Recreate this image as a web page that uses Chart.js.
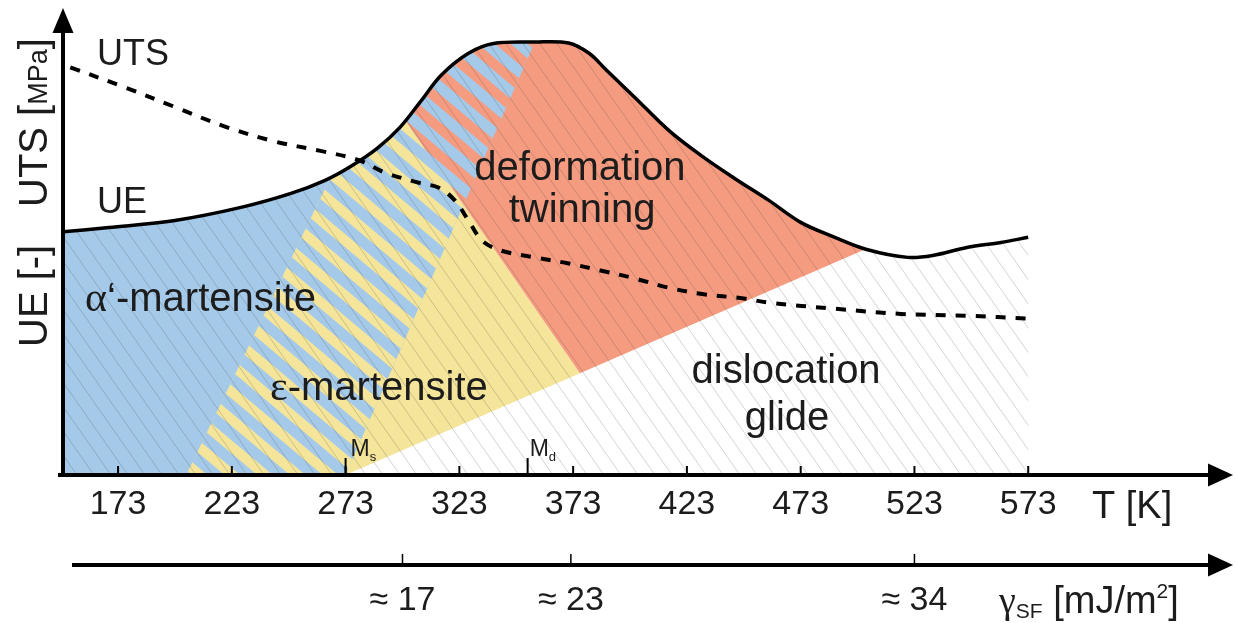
<!DOCTYPE html>
<html>
<head>
<meta charset="utf-8">
<script src="https://cdn.jsdelivr.net/npm/chart.js@4.4.1/dist/chart.umd.min.js"></script>
<style>
  html, body { margin: 0; padding: 0; background: #ffffff; }
  #wrap { width: 1235px; height: 623px; }
</style>
</head>
<body>
<div id="wrap"><canvas id="c" width="1235" height="623"></canvas></div>
<script>
// Temperature axis, K
const tempTicks = [173, 223, 273, 323, 373, 423, 473, 523, 573];
// Stacking-fault energy axis: temperatures where the marks sit, and their values (mJ/m²)
const sfeTickT = [298, 372, 523];
const sfeTickValues = [17, 23, 34];
// Characteristic temperatures
const msTemp = 273;
const mdTemp = 353;

// Uniform elongation (relative units)
const ueT = [149, 169, 198, 227, 249, 264, 275, 287, 297, 306, 315, 327, 338, 356, 371, 380, 387, 400, 415, 429, 444, 459, 473, 488, 502, 520, 531, 546, 561, 573];
const ueV = [52.1, 53.0, 54.5, 57.3, 60.3, 63.1, 66.0, 70.0, 74.5, 80.0, 85.6, 90.3, 92.4, 92.7, 92.5, 90.3, 87.0, 80.9, 73.8, 68.5, 63.5, 58.8, 54.1, 50.9, 48.3, 46.6, 47.0, 48.7, 49.8, 50.9];

// Ultimate tensile strength (relative units)
const utsT = [152, 176, 198, 220, 242, 262, 279, 290, 305, 314, 321, 327, 333, 341, 356, 371, 385, 400, 415, 429, 448, 459, 488, 517, 546, 573];
const utsV = [87.3, 83.0, 78.8, 74.6, 71.4, 69.4, 67.4, 64.8, 62.6, 61.5, 58.8, 54.5, 50.2, 48.1, 46.6, 45.3, 43.8, 42.1, 40.1, 38.8, 37.8, 36.9, 35.6, 34.5, 34.1, 33.5];

// Phase-field outlines in (T, value) pairs
const alphaField = [[140, 0], [203, 0], [302.5, 100], [140, 100]];
const mixedBand = [[203, 0], [273, 0], [362.7, 100], [302.5, 100]];
const epsField = [[140, 0], [273, 0], [376, 21.8], [265.1, 100], [140, 100]];
const twinField = [[376, 21.8], [573, 63.5], [573, 100], [265.1, 100]];

const T_MIN = 148.8, T_MAX = 663;
const SANS = '"Liberation Sans", Arial, Helvetica, sans-serif';
const SERIF = '"Liberation Serif", "Times New Roman", serif';
const INK = '#1c1c1c';
const BLUE = '#a5c9e8', YELLOW = '#f4e59a', SALMON = '#f59b80';

function polyPath(ctx, xs, ys, pts) {
  ctx.beginPath();
  pts.forEach(([t, v], i) => {
    const px = xs.getPixelForValue(t), py = ys.getPixelForValue(v);
    if (i === 0) ctx.moveTo(px, py); else ctx.lineTo(px, py);
  });
  ctx.closePath();
}

function clipUnderUE(chart, ctx) {
  const xs = chart.scales.x, ys = chart.scales.y;
  const line = chart.getDatasetMeta(0).dataset;
  ctx.beginPath();
  if (line && typeof line.path === 'function') {
    if (typeof line.updateControlPoints === 'function') line.updateControlPoints(chart.chartArea, 'x');
    line.path(ctx);
  } else {
    ueT.forEach((t, i) => {
      const px = xs.getPixelForValue(t), py = ys.getPixelForValue(ueV[i]);
      if (i === 0) ctx.moveTo(px, py); else ctx.lineTo(px, py);
    });
  }
  ctx.lineTo(xs.getPixelForValue(ueT[ueT.length - 1]), ys.getPixelForValue(0));
  ctx.lineTo(xs.getPixelForValue(ueT[0]), ys.getPixelForValue(0));
  ctx.closePath();
  ctx.clip();
}

function stripes(ctx, area, color, angle, period, width) {
  ctx.save();
  ctx.translate((area.left + area.right) / 2, (area.top + area.bottom) / 2);
  ctx.rotate(angle * Math.PI / 180);
  ctx.fillStyle = color;
  for (let k = -90; k <= 90; k++) ctx.fillRect(-1600, k * period, 3200, width);
  ctx.restore();
}

function drawRuns(ctx, x, y, runs, align) {
  let total = 0;
  runs.forEach(r => { ctx.font = r.size + 'px ' + (r.family || SANS); r.w = ctx.measureText(r.text).width; total += r.w; });
  let cx = align === 'center' ? x - total / 2 : x;
  ctx.textAlign = 'left';
  ctx.textBaseline = 'alphabetic';
  runs.forEach(r => {
    ctx.font = r.size + 'px ' + (r.family || SANS);
    ctx.fillText(r.text, cx, y + (r.dy || 0));
    cx += r.w;
  });
}

function arrow(ctx, tipX, tipY, dir, len, half) {
  ctx.beginPath();
  if (dir === 'right') {
    ctx.moveTo(tipX, tipY); ctx.lineTo(tipX - len, tipY - half); ctx.lineTo(tipX - len, tipY + half);
  } else {
    ctx.moveTo(tipX, tipY); ctx.lineTo(tipX - half, tipY + len); ctx.lineTo(tipX + half, tipY + len);
  }
  ctx.closePath();
  ctx.fill();
}

// Coloured phase fields, the mixed α'/ε band and the light hatching below the UE curve
const phaseFields = {
  id: 'phaseFields',
  beforeDatasetsDraw(chart) {
    const ctx = chart.ctx, xs = chart.scales.x, ys = chart.scales.y, area = chart.chartArea;
    ctx.save();
    clipUnderUE(chart, ctx);

    ctx.fillStyle = YELLOW; polyPath(ctx, xs, ys, epsField); ctx.fill();
    ctx.fillStyle = SALMON; polyPath(ctx, xs, ys, twinField); ctx.fill();
    ctx.fillStyle = BLUE; polyPath(ctx, xs, ys, alphaField); ctx.fill();
    polyPath(ctx, xs, ys, mixedBand); ctx.fill();

    // striped band: blue with ε (yellow) or twin (salmon) stripes
    ctx.save();
    polyPath(ctx, xs, ys, mixedBand); ctx.clip();
    ctx.save();
    polyPath(ctx, xs, ys, epsField); ctx.clip();
    stripes(ctx, area, YELLOW, 40, 21, 10);
    ctx.restore();
    ctx.save();
    polyPath(ctx, xs, ys, twinField); ctx.clip();
    stripes(ctx, area, SALMON, 40, 21, 10);
    ctx.restore();
    ctx.restore();

    // fine hatching
    ctx.strokeStyle = 'rgba(70,70,70,0.24)';
    ctx.lineWidth = 1;
    const h = area.bottom - area.top;
    const dx = h / Math.tan(55 * Math.PI / 180);
    ctx.beginPath();
    for (let x0 = area.left - dx - 20; x0 < area.right; x0 += 17) {
      ctx.moveTo(x0, area.top);
      ctx.lineTo(x0 + dx, area.bottom);
    }
    ctx.stroke();
    ctx.restore();
  }
};

// Axis lines with arrow heads, inward tick marks and all annotation text
const frame = {
  id: 'frame',
  afterDraw(chart) {
    const ctx = chart.ctx, xs = chart.scales.x, gs = chart.scales.g, ys = chart.scales.y;
    const area = chart.chartArea;
    const y0 = area.bottom, xL = area.left;
    ctx.save();
    ctx.strokeStyle = '#000'; ctx.fillStyle = '#000';

    // y axis
    ctx.lineWidth = 4;
    ctx.beginPath(); ctx.moveTo(xL, y0 + 2); ctx.lineTo(xL, area.top + 22); ctx.stroke();
    arrow(ctx, xL, area.top, 'up', 25, 10.5);

    // temperature axis
    ctx.beginPath(); ctx.moveTo(xL - 5, y0); ctx.lineTo(area.right - 22, y0); ctx.stroke();
    arrow(ctx, area.right, y0, 'right', 25, 11.5);
    ctx.lineWidth = 2;
    tempTicks.forEach(t => {
      const px = xs.getPixelForValue(t);
      ctx.beginPath(); ctx.moveTo(px, y0); ctx.lineTo(px, y0 - 9); ctx.stroke();
    });
    [msTemp, mdTemp].forEach(t => {
      const px = xs.getPixelForValue(t);
      ctx.beginPath(); ctx.moveTo(px, y0); ctx.lineTo(px, y0 - 17); ctx.stroke();
    });

    // stacking-fault energy axis
    const yg = gs.top;
    ctx.lineWidth = 4;
    ctx.beginPath(); ctx.moveTo(72, yg); ctx.lineTo(area.right - 22, yg); ctx.stroke();
    arrow(ctx, area.right, yg, 'right', 25, 11.5);
    ctx.lineWidth = 1.5;
    sfeTickT.forEach(t => {
      const px = gs.getPixelForValue(t);
      ctx.beginPath(); ctx.moveTo(px, yg); ctx.lineTo(px, yg - 11); ctx.stroke();
    });

    ctx.fillStyle = INK;
    // axis titles
    drawRuns(ctx, 1092, 518, [{ text: 'T [K]', size: 38 }], 'left');
    drawRuns(ctx, 999, 613, [
      { text: 'γ', size: 38, family: SERIF },
      { text: 'SF', size: 21, dy: 5 },
      { text: ' [mJ/m', size: 38 },
      { text: '2', size: 21, dy: -15 },
      { text: ']', size: 38 }
    ], 'left');

    ctx.save();
    ctx.translate(47, 347);
    ctx.rotate(-Math.PI / 2);
    drawRuns(ctx, 0, 0, [{ text: 'UE [-]', size: 40 }], 'left');
    drawRuns(ctx, 140, 0, [
      { text: 'UTS [', size: 40 },
      { text: 'MPa', size: 27 },
      { text: ']', size: 40 }
    ], 'left');
    ctx.restore();

    // transformation temperatures
    const msX = xs.getPixelForValue(msTemp), mdX = xs.getPixelForValue(mdTemp);
    drawRuns(ctx, msX + 5, y0 - 19, [{ text: 'M', size: 23 }, { text: 's', size: 13, dy: 5 }], 'left');
    drawRuns(ctx, mdX + 2, y0 - 19, [{ text: 'M', size: 23 }, { text: 'd', size: 13, dy: 5 }], 'left');

    // curve and field names
    const P = (t, v) => [xs.getPixelForValue(t), ys.getPixelForValue(v)];
    let p;
    p = P(163.7, 87.8); drawRuns(ctx, p[0], p[1], [{ text: 'UTS', size: 36 }], 'left');
    p = P(163.7, 56.1); drawRuns(ctx, p[0], p[1], [{ text: 'UE', size: 36 }], 'left');
    p = P(158.5, 35.1); drawRuns(ctx, p[0], p[1], [{ text: 'α', size: 42, family: SERIF }, { text: '‘-martensite', size: 40 }], 'left');
    p = P(239.8, 16.1); drawRuns(ctx, p[0], p[1], [{ text: 'ε', size: 42, family: SERIF }, { text: '-martensite', size: 40 }], 'left');
    p = P(376.0, 63.2); drawRuns(ctx, p[0], p[1], [{ text: 'deformation', size: 40 }], 'center');
    p = P(376.9, 54.2); drawRuns(ctx, p[0], p[1], [{ text: 'twinning', size: 40 }], 'center');
    p = P(466.6, 19.7); drawRuns(ctx, p[0], p[1], [{ text: 'dislocation', size: 40 }], 'center');
    p = P(467.0, 9.6); drawRuns(ctx, p[0], p[1], [{ text: 'glide', size: 40 }], 'center');
    ctx.restore();
  }
};

const ctx = document.getElementById('c').getContext('2d');
new Chart(ctx, {
  type: 'line',
  data: {
    datasets: [
      {
        label: 'UE',
        data: ueT.map((t, i) => ({ x: t, y: ueV[i] })),
        xAxisID: 'x', yAxisID: 'y',
        borderColor: '#000', borderWidth: 3.5,
        pointRadius: 0, fill: false,
        tension: 0.35
      },
      {
        label: 'UTS',
        data: utsT.map((t, i) => ({ x: t, y: utsV[i] })),
        xAxisID: 'x', yAxisID: 'y',
        borderColor: '#000', borderWidth: 4, borderDash: [10, 10],
        pointRadius: 0, fill: false,
        tension: 0.35
      }
    ]
  },
  options: {
    responsive: false,
    animation: false,
    events: [],
    layout: { padding: { left: 63, right: 2, top: 8, bottom: 0 } },
    plugins: { legend: { display: false }, tooltip: { enabled: false } },
    scales: {
      x: {
        type: 'linear', position: 'bottom', min: T_MIN, max: T_MAX, weight: 0,
        grid: { display: false, drawTicks: false },
        border: { display: false },
        ticks: { autoSkip: false, maxRotation: 0, padding: 9, color: INK, font: { family: SANS, size: 34 }, callback: v => String(v) },
        afterBuildTicks: s => { s.ticks = tempTicks.map(v => ({ value: v })); },
        afterFit: s => { s.height = 90; }
      },
      g: {
        type: 'linear', axis: 'x', position: 'bottom', min: T_MIN, max: T_MAX, weight: 1,
        grid: { display: false, drawTicks: false },
        border: { display: false },
        ticks: { autoSkip: false, maxRotation: 0, padding: 15, color: INK, font: { family: SANS, size: 34 },
          callback: (v, i) => '≈ ' + sfeTickValues[i] },
        afterBuildTicks: s => { s.ticks = sfeTickT.map(v => ({ value: v })); },
        afterFit: s => { s.height = 58; }
      },
      y: { type: 'linear', display: false, min: 0, max: 100 }
    }
  },
  plugins: [phaseFields, frame]
});
</script>
</body>
</html>
